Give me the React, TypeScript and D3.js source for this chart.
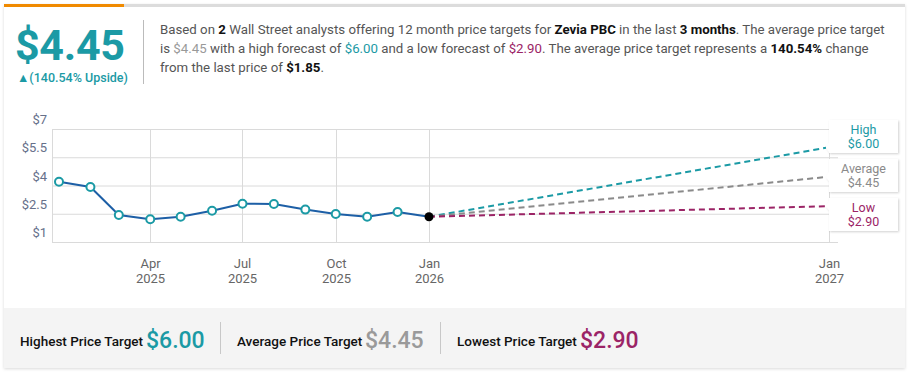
import React, { useEffect } from "react";
import * as d3 from "d3";

const historyDates = [
  "2025-01-01", "2025-02-01", "2025-03-01", "2025-04-01", "2025-05-01", "2025-06-01", "2025-07-01",
  "2025-08-01", "2025-09-01", "2025-10-01", "2025-11-01", "2025-12-01", "2026-01-01",
];
const historyPrices = [4.2, 3.92, 2.43, 2.21, 2.34, 2.66, 3.03, 3.02, 2.72, 2.49, 2.34, 2.59, 2.34];

const targetLabels = ["High", "Average", "Low"];
const targetValues = [6.0, 4.45, 2.9];
const targetColors = ["#1b9aa5", "#8a8a8a", "#9b2466"];
const targetDate = "2027-01-01";

const yTicks = [1, 2.5, 4, 5.5, 7];
const xTickDates = ["2025-04-01", "2025-07-01", "2025-10-01", "2026-01-01", "2027-01-01"];

const summaryLabels = ["Highest Price Target", "Average Price Target", "Lowest Price Target"];
const summaryColors = ["#1b9aa5", "#9a9a9a", "#9b2466"];

const TEAL = "#1b9aa5";
const FONT = "Roboto, 'Noto Sans', sans-serif";

const parse = d3.utcParse("%Y-%m-%d");

export default function App() {
  useEffect(() => {
    document.body.style.margin = "0";
  }, []);

  const W = 909;
  const H = 374;
  const plot = { left: 52, right: 838, top: 129, bottom: 242 };

  // history and forecast spans are drawn at different densities
  const x = d3
    .scaleUtc()
    .domain([parse(historyDates[0])!, parse("2026-01-01")!, parse(targetDate)!])
    .range([59, 429, 829]);
  const y = d3.scaleLinear().domain([1, 7]).range([plot.bottom, plot.top]);

  const pts = historyDates.map((d, i) => ({ date: parse(d)!, v: historyPrices[i] }));
  const line = d3
    .line<{ date: Date; v: number }>()
    .x((d) => x(d.date))
    .y((d) => y(d.v));

  const last = pts[pts.length - 1];
  const endX = x(parse(targetDate)!) - 3;

  const boxW = 69;
  const boxH = 33;
  const boxX = 829;
  const boxTop0 = 120;
  const boxGap = 6;

  const monthFmt = d3.utcFormat("%b");
  const yearFmt = d3.utcFormat("%Y");

  return (
    <svg width={W} height={H} style={{ display: "block", fontFamily: FONT }}>
      <defs>
        <filter id="shadow" x="-10%" y="-10%" width="130%" height="140%">
          <feDropShadow dx="1" dy="1" stdDeviation="1.2" floodColor="#000" floodOpacity="0.18" />
        </filter>
        <filter id="cardShadow" x="-2%" y="-2%" width="104%" height="104%">
          <feDropShadow dx="0" dy="1" stdDeviation="1.5" floodColor="#000" floodOpacity="0.15" />
        </filter>
      </defs>
      <rect width={W} height={H} fill="#fff" />

      {/* card */}
      <rect x={4} y={4} width={901} height={364} fill="#fff" filter="url(#cardShadow)" />
      <rect x={4} y={4} width={901} height={3} fill="#dcdcdc" />
      <rect x={4} y={4} width={120} height={3} fill="#f08a00" />

      {/* header */}
      <text x={15} y={60} fontSize={43} fontWeight={700} fill={TEAL} letterSpacing={-0.3}>
        $4.45
      </text>
      <text x={17} y={82} fontSize={12.5} fontWeight={500} fill={TEAL}>
        ▲(140.54% Upside)
      </text>
      <line x1={143.5} x2={143.5} y1={20} y2={84} stroke="#bbb" />

      <text fontSize={13.25} fill="#555">
        <tspan x={160} y={34}>
          Based on <tspan fontWeight={700} fill="#111">2</tspan> Wall Street analysts offering 12 month price
          targets for <tspan fontWeight={700} fill="#111">Zevia PBC</tspan> in the last{" "}
          <tspan fontWeight={700} fill="#111">3 months</tspan>. The average price target
        </tspan>
        <tspan x={160} y={53}>
          is <tspan fill="#999">$4.45</tspan> with a high forecast of <tspan fill={TEAL}>$6.00</tspan> and a
          low forecast of <tspan fill="#9b2466">$2.90</tspan>. The average price target represents a{" "}
          <tspan fontWeight={700} fill="#111">140.54%</tspan> change
        </tspan>
        <tspan x={160} y={72}>
          from the last price of <tspan fontWeight={700} fill="#111">$1.85</tspan>.
        </tspan>
      </text>

      {/* grid */}
      {yTicks.map((t) => (
        <g key={t}>
          <line x1={plot.left} x2={plot.right} y1={y(t) + 0.5} y2={y(t) + 0.5} stroke="#dadada" />
          <text x={47} y={y(t) - 5} textAnchor="end" fontSize={13} fill="#66708a">
            ${t}
          </text>
        </g>
      ))}
      <line x1={plot.left + 0.5} x2={plot.left + 0.5} y1={plot.top} y2={plot.bottom} stroke="#dadada" />
      {xTickDates.map((d) => {
        const dt = parse(d)!;
        const px = Math.round(x(dt)) + 0.5;
        return (
          <g key={d}>
            <line x1={px} x2={px} y1={plot.top} y2={plot.bottom} stroke="#dadada" />
            <text x={px} y={268} textAnchor="middle" fontSize={13} fill="#666">
              {monthFmt(dt)}
            </text>
            <text x={px} y={283} textAnchor="middle" fontSize={13} fill="#666">
              {yearFmt(dt)}
            </text>
          </g>
        );
      })}

      {/* forecast lines */}
      {targetValues.map((v, i) => (
        <line
          key={targetLabels[i]}
          x1={x(last.date)}
          y1={y(last.v)}
          x2={endX}
          y2={y(v)}
          stroke={targetColors[i]}
          strokeWidth={2}
          strokeDasharray="6,4"
        />
      ))}

      {/* history */}
      <path d={line(pts) ?? ""} fill="none" stroke="#1d5fa6" strokeWidth={2} />
      {pts.slice(0, -1).map((p, i) => (
        <circle key={i} cx={x(p.date)} cy={y(p.v)} r={4} fill="#fff" stroke={TEAL} strokeWidth={2} />
      ))}
      <circle cx={x(last.date)} cy={y(last.v)} r={4.5} fill="#000" />

      {/* target labels */}
      {targetValues.map((v, i) => {
        const top = boxTop0 + i * (boxH + boxGap);
        const ty = Math.min(Math.max(y(v), top + 4), top + boxH - 2);
        const path = `M${boxX},${top} H${boxX + boxW} V${top + boxH} H${boxX} V${Math.min(ty + 4, top + boxH)} L${endX},${ty} L${boxX},${ty - 5} Z`;
        return (
          <g key={targetLabels[i]}>
            <path d={path} fill="#fff" filter="url(#shadow)" />
            <text x={boxX + boxW / 2} y={top + 14} textAnchor="middle" fontSize={12.5} fill={targetColors[i]}>
              {targetLabels[i]}
            </text>
            <text x={boxX + boxW / 2} y={top + 28} textAnchor="middle" fontSize={12.5} fill={targetColors[i]}>
              ${v.toFixed(2)}
            </text>
          </g>
        );
      })}

      {/* summary strip */}
      <rect x={4} y={308} width={901} height={60} fill="#f4f4f4" />
      {summaryLabels.map((s, i) => {
        const lx = [20, 237, 457][i];
        const vx = [146, 365, 580][i];
        return (
          <g key={s}>
            <text x={lx} y={346} fontSize={13.5} fontWeight={500} fill="#111">
              {s}
            </text>
            <text x={vx} y={348} fontSize={23} fontWeight={500} fill={summaryColors[i]}>
              ${targetValues[i].toFixed(2)}
            </text>
          </g>
        );
      })}
      {[220.5, 440.5].map((dx) => (
        <line key={dx} x1={dx} x2={dx} y1={322} y2={354} stroke="#c8c8c8" />
      ))}
    </svg>
  );
}
